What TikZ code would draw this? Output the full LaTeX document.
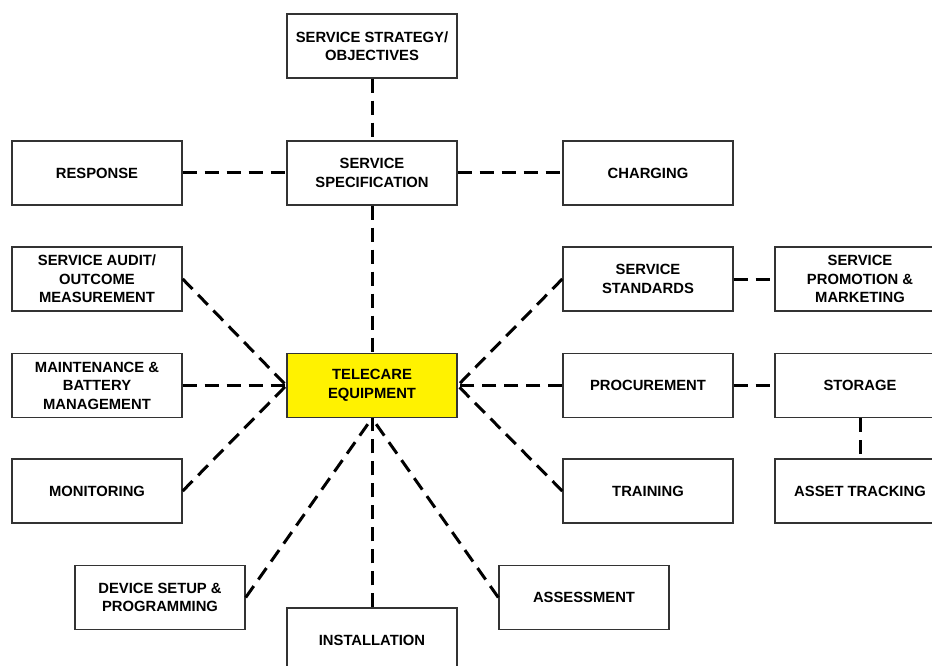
\documentclass[tikz,border=0pt]{standalone}
\usepackage{fontspec}
\setmainfont{Liberation Sans}
\begin{document}
\begin{tikzpicture}[x=1pt,y=-1pt,
  box/.style={draw=black!80,line width=1.4pt,fill=white,minimum width=170pt,minimum height=64pt,
    inner sep=2pt,align=center,font=\fontsize{14.8}{18.5}\selectfont\bfseries},
  hub/.style={box,fill=yellow},
  conn/.style={line width=3pt,dash pattern=on 14pt off 8pt,black}]
\useasboundingbox (0,0) rectangle (932,666);
\node[box] (strat) at (372,46) {SERVICE STRATEGY/\\OBJECTIVES};
\node[box] (resp) at (97,173) {RESPONSE};
\node[box] (spec) at (372,173) {SERVICE\\SPECIFICATION};
\node[box] (charg) at (648,173) {CHARGING};
\node[box] (audit) at (97,279) {SERVICE AUDIT/\\OUTCOME\\MEASUREMENT};
\node[box] (stand) at (648,279) {SERVICE\\STANDARDS};
\node[box] (promo) at (860,279) {SERVICE\\PROMOTION \&\\MARKETING};
\node[box] (maint) at (97,385.5) {MAINTENANCE \&\\BATTERY\\MANAGEMENT};
\node[hub] (tele) at (372,385.5) {TELECARE\\EQUIPMENT};
\node[box] (proc) at (648,385.5) {PROCUREMENT};
\node[box] (stor) at (860,385.5) {STORAGE};
\node[box] (monit) at (97,491) {MONITORING};
\node[box] (train) at (648,491) {TRAINING};
\node[box] (asset) at (860,491) {ASSET TRACKING};
\node[box] (device) at (160,597.5) {DEVICE SETUP \&\\PROGRAMMING};
\node[box] (assess) at (584,597.5) {ASSESSMENT};
\node[box] (install) at (372,640) {INSTALLATION};
\draw[conn] (strat.south) -- (spec.north);
\draw[conn] (resp.east) -- (spec.west);
\draw[conn] (spec.east) -- (charg.west);
\draw[conn] (spec.south) -- (tele.north);
\draw[conn] (audit.east) -- (tele.west);
\draw[conn] (maint.east) -- (tele.west);
\draw[conn] (monit.east) -- (tele.west);
\draw[conn] (stand.west) -- (tele.east);
\draw[conn] (proc.west) -- (tele.east);
\draw[conn] (train.west) -- (tele.east);
\draw[conn] (stand.east) -- (promo.west);
\draw[conn] (proc.east) -- (stor.west);
\draw[conn] (stor.south) -- (asset.north);
\draw[conn] (device.east) -- (tele.south);
\draw[conn] (install.north) -- (tele.south);
\draw[conn] (assess.west) -- (tele.south);
\end{tikzpicture}
\end{document}
